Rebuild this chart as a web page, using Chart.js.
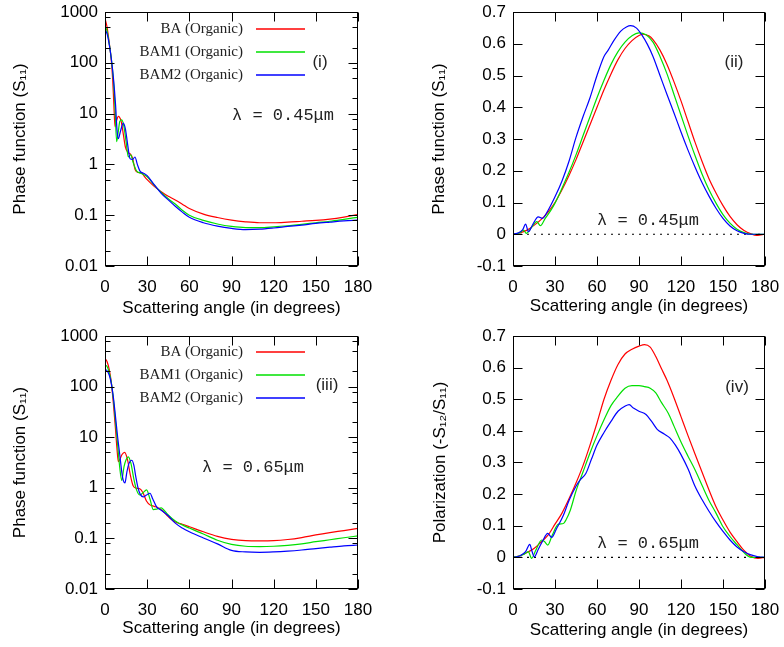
<!DOCTYPE html>
<html>
<head>
<meta charset="utf-8">
<script src="https://cdn.jsdelivr.net/npm/chart.js@4.4.1/dist/chart.umd.min.js"></script>
<style>
  html, body { margin: 0; padding: 0; background: #fff; }
  #wrap { position: relative; width: 784px; height: 647px; }
  canvas { position: absolute; }
</style>
</head>
<body>
<div id="wrap">
  <canvas id="p1" width="392" height="320" style="left:0;top:0"></canvas>
  <canvas id="p2" width="392" height="320" style="left:392px;top:0"></canvas>
  <canvas id="p3" width="392" height="327" style="left:0;top:320px"></canvas>
  <canvas id="p4" width="392" height="327" style="left:392px;top:320px"></canvas>
</div>
<script>
// ---- data (angle in degrees, value) ----
const SERIES_NAMES = ['BA (Organic)', 'BAM1 (Organic)', 'BAM2 (Organic)'];
const ANGLE_TICKS = [0, 30, 60, 90, 120, 150, 180];
const LOG_TICKS = [0.01, 0.1, 1, 10, 100, 1000];
const LIN_TICKS = [-0.1, 0, 0.1, 0.2, 0.3, 0.4, 0.5, 0.6, 0.7];
const ZERO_LINE = [[0, 0], [180, 0]];

// (i) phase function, lambda = 0.45 um
const s11_045_BA = [[0,750],[1.5,500],[3,250],[4.5,110],[5.5,45],[6.3,15],[7.1,5.5],[8.2,7.2],[9.5,8.8],[11.5,7],[13,4],[14.5,2.2],[16.5,1.7],[18,1.6],[19.5,1.35],[21.5,0.78],[23,0.7],[26,0.68],[28,0.58],[30,0.5],[35,0.37],[40,0.29],[45,0.235],[50,0.2],[55,0.165],[60,0.135],[70,0.105],[80,0.09],[90,0.08],[100,0.074],[110,0.071],[120,0.071],[130,0.073],[140,0.076],[150,0.079],[160,0.084],[170,0.092],[180,0.103]];
const s11_045_BAM1 = [[0,530],[1.5,420],[3,240],[4.5,120],[6,45],[7.2,12],[8.3,2.8],[9.5,4.5],[10.5,7],[11.9,7.5],[13.5,5.5],[15,2.8],[16.6,1.4],[18.3,1.55],[20,1.1],[22.5,0.74],[25,0.68],[27,0.64],[30,0.57],[35,0.39],[40,0.28],[45,0.21],[50,0.166],[55,0.125],[60,0.1],[70,0.079],[80,0.067],[90,0.06],[100,0.057],[110,0.057],[120,0.059],[130,0.062],[140,0.066],[150,0.071],[160,0.076],[170,0.083],[180,0.091]];
const s11_045_BAM2 = [[0,450],[1.5,370],[3,230],[4.5,120],[6,50],[7.5,15],[8.5,5],[9.5,3.2],[11,4.5],[13,6.5],[14.5,5],[16,2.6],[17.8,1.3],[19.5,1.25],[21.3,1.4],[23,1],[25,0.73],[27,0.68],[30,0.6],[35,0.4],[40,0.27],[45,0.2],[50,0.15],[55,0.115],[60,0.091],[70,0.071],[80,0.061],[90,0.055],[100,0.052],[110,0.053],[120,0.056],[130,0.06],[140,0.064],[150,0.069],[160,0.073],[170,0.077],[180,0.08]];

// (ii) lambda = 0.45 um
const p_045_BA = [[0,0],[5,0.004],[10,0.013],[15,0.028],[20,0.046],[25,0.07],[30,0.1],[35,0.14],[40,0.185],[45,0.235],[50,0.29],[55,0.345],[60,0.4],[65,0.455],[70,0.505],[75,0.55],[80,0.585],[85,0.61],[90,0.626],[93,0.63],[97,0.625],[100,0.613],[105,0.58],[110,0.535],[115,0.48],[120,0.42],[125,0.355],[130,0.29],[135,0.23],[140,0.175],[145,0.13],[150,0.09],[155,0.056],[160,0.03],[165,0.012],[170,0.001],[174,-0.004],[177,-0.002],[180,0]];
const p_045_BAM1 = [[0,0],[5,0.005],[7.5,0.013],[9.5,0.003],[13,0.02],[17,0.04],[19.5,0.027],[23,0.05],[27,0.075],[30,0.098],[35,0.145],[40,0.195],[45,0.25],[50,0.31],[55,0.37],[60,0.43],[65,0.485],[70,0.535],[75,0.575],[80,0.605],[85,0.625],[90,0.634],[95,0.628],[100,0.605],[105,0.56],[110,0.505],[115,0.44],[120,0.375],[125,0.31],[130,0.248],[135,0.19],[140,0.14],[145,0.098],[150,0.062],[155,0.035],[160,0.016],[165,0.005],[170,0],[175,0],[180,0]];
const p_045_BAM2 = [[0,0],[4,0.005],[7,0.015],[9,0.032],[11,0.008],[14,0.03],[18,0.055],[21,0.05],[25,0.075],[30,0.118],[35,0.168],[40,0.23],[45,0.305],[50,0.37],[55,0.43],[60,0.5],[65,0.56],[68,0.58],[72,0.61],[77,0.64],[81,0.653],[84,0.657],[88,0.65],[92,0.628],[96,0.598],[100,0.56],[105,0.5],[110,0.44],[115,0.382],[120,0.322],[125,0.265],[130,0.212],[135,0.163],[140,0.12],[145,0.082],[150,0.05],[155,0.026],[160,0.011],[165,0.003],[170,0],[180,0]];

// (iii) phase function, lambda = 0.65 um
const s11_065_BA = [[0,360],[1.5,310],[3,220],[4.5,120],[6,45],[7.5,14],[8.5,6],[9.5,3.3],[10.5,3.6],[12,4.5],[14,5],[16,3.6],[18,1.8],[20,1.1],[22.5,0.98],[25,0.95],[27,0.8],[29.5,0.55],[32,0.46],[35,0.43],[38,0.4],[41,0.35],[45,0.27],[50,0.21],[55,0.19],[60,0.17],[70,0.135],[80,0.11],[90,0.096],[100,0.09],[110,0.089],[120,0.09],[130,0.095],[140,0.104],[150,0.117],[160,0.13],[170,0.143],[180,0.158]];
const s11_065_BAM1 = [[0,270],[1.5,250],[3,190],[4.5,120],[6,55],[7.5,20],[9,7],[10.5,2.5],[11.9,1.4],[13.5,2.6],[15,3.6],[16.6,4.1],[18.5,3],[20.5,1.5],[22.5,0.9],[24.9,0.72],[27,0.8],[29.6,0.91],[32,0.6],[34.4,0.37],[37,0.38],[40,0.4],[42,0.36],[45,0.29],[50,0.22],[55,0.185],[60,0.16],[70,0.122],[80,0.092],[90,0.076],[100,0.07],[110,0.069],[120,0.07],[130,0.073],[140,0.078],[150,0.086],[160,0.094],[170,0.103],[180,0.112]];
const s11_065_BAM2 = [[0,218],[1.5,205],[3,170],[4.5,115],[6,60],[7.5,25],[9,10],[10.5,4.5],[12,2],[13,1.4],[14.2,1.25],[15.5,2],[17,3],[19,3.5],[20.5,2.8],[22,1.6],[23.5,1],[25,0.75],[27.3,0.66],[29.5,0.72],[32,0.78],[34,0.6],[36.7,0.42],[40,0.36],[45,0.28],[50,0.2],[55,0.16],[60,0.135],[70,0.102],[80,0.078],[90,0.058],[100,0.054],[110,0.053],[120,0.054],[130,0.056],[140,0.059],[150,0.063],[160,0.067],[170,0.071],[180,0.074]];

// (iv) polarization, lambda = 0.65 um
const p_065_BA = [[0,0],[5,0.005],[9,0.013],[15,0.028],[20,0.048],[25,0.07],[30,0.105],[35,0.14],[40,0.185],[45,0.235],[50,0.29],[55,0.355],[60,0.425],[65,0.5],[70,0.56],[75,0.61],[80,0.643],[85,0.658],[90,0.668],[94,0.673],[98,0.665],[102,0.635],[106,0.597],[110,0.56],[115,0.505],[120,0.445],[125,0.385],[130,0.327],[135,0.27],[140,0.213],[145,0.16],[150,0.118],[155,0.08],[160,0.05],[165,0.022],[170,0.003],[175,-0.003],[180,0]];
const p_065_BAM1 = [[0,0],[5,0.005],[8,0.01],[10.9,0.018],[13.3,-0.003],[16,0.02],[20.5,0.055],[22.5,0.05],[24.8,0.039],[28,0.07],[32.4,0.105],[36,0.107],[38,0.12],[41,0.15],[45,0.21],[50,0.27],[55,0.33],[60,0.385],[65,0.435],[70,0.48],[75,0.51],[80,0.535],[85,0.543],[90,0.543],[94,0.54],[98,0.535],[102,0.52],[106,0.49],[111,0.455],[115,0.415],[120,0.365],[125,0.32],[130,0.277],[135,0.228],[140,0.18],[145,0.14],[150,0.097],[155,0.066],[160,0.04],[165,0.015],[170,0],[175,0],[180,0]];
const p_065_BAM2 = [[0,0],[5,0.005],[9,0.018],[12,0.041],[13.5,0.02],[15.2,0.002],[18,0.025],[21,0.05],[24.8,0.076],[27.6,0.063],[31,0.09],[36,0.133],[40,0.18],[45,0.225],[48,0.245],[52,0.265],[56,0.31],[60,0.355],[65,0.395],[70,0.43],[75,0.462],[80,0.478],[83,0.483],[86,0.472],[90,0.462],[95,0.452],[99,0.43],[103,0.405],[108,0.39],[112,0.378],[116,0.355],[120,0.325],[125,0.28],[130,0.225],[135,0.183],[140,0.146],[145,0.112],[150,0.082],[155,0.055],[160,0.033],[165,0.018],[170,0.008],[175,0.002],[180,0]];

// ---- styling ----
const COLORS = ['#ff0000', '#00e000', '#0000ff'];
const SANS = '"Liberation Sans", Arial, sans-serif';
const FONT = { family: SANS, size: 17 };
Chart.defaults.color = '#000';
Chart.defaults.font.family = SANS;

// gnuplot-like frame: border, inward ticks (mirrored), legend and labels
const framePlugin = {
  id: 'frame',
  afterDraw(chart, args, o) {
    const { ctx, chartArea: a, scales: { x, y } } = chart;
    const L = Math.round(a.left) + 0.5, R = Math.round(a.right) - 0.5;
    const T = Math.round(a.top) + 0.5, B = Math.round(a.bottom) - 0.5;
    ctx.save();
    ctx.strokeStyle = '#000';
    ctx.lineWidth = 1;
    ctx.beginPath();
    x.ticks.forEach(t => {
      const px = Math.round(x.getPixelForValue(t.value)) + 0.5;
      ctx.moveTo(px, B); ctx.lineTo(px, B - 9);
      ctx.moveTo(px, T); ctx.lineTo(px, T + 9);
    });
    y.ticks.forEach(t => {
      const py = Math.round(y.getPixelForValue(t.value)) + 0.5;
      ctx.moveTo(L, py); ctx.lineTo(L + 9, py);
      ctx.moveTo(R, py); ctx.lineTo(R - 9, py);
    });
    if (o.log) {
      LOG_TICKS.slice(0, -1).forEach(d => [2, 5, 8].forEach(m => {
        const py = Math.round(y.getPixelForValue(d * m)) + 0.5;
        ctx.moveTo(L, py); ctx.lineTo(L + 5, py);
        ctx.moveTo(R, py); ctx.lineTo(R - 5, py);
      }));
    }
    ctx.stroke();
    ctx.strokeRect(L, T, R - L, B - T);

    if (o.legend) {
      const lg = o.legend;
      chart.data.datasets.slice(0, 3).forEach((ds, i) => {
        const yy = lg.y + i * lg.dy;
        ctx.font = '15px "Liberation Serif", "Times New Roman", serif';
        ctx.textAlign = 'right';
        ctx.textBaseline = 'middle';
        ctx.fillStyle = '#222';
        ctx.fillText(ds.label, lg.x, yy);
        ctx.strokeStyle = COLORS[i];
        ctx.lineWidth = 1.5;
        ctx.beginPath();
        ctx.moveTo(lg.x1, yy); ctx.lineTo(lg.x2, yy);
        ctx.stroke();
      });
    }
    (o.texts || []).forEach(t => {
      ctx.font = t.font;
      ctx.fillStyle = '#222';
      ctx.textAlign = t.align;
      ctx.textBaseline = 'middle';
      ctx.fillText(t.text, t.x, t.y);
    });
    ctx.restore();
  }
};

function fmtLin(v) {
  return Math.abs(v) < 1e-9 ? '0' : v.toFixed(1);
}

function makePanel(id, p) {
  const canvas = document.getElementById(id);
  const W = canvas.width, H = canvas.height;
  const datasets = p.series.map((s, i) => ({
    label: SERIES_NAMES[i],
    data: s.map(([ang, val]) => ({ x: ang, y: val })),
    borderColor: COLORS[i],
    borderWidth: 1.2,
    pointRadius: 0,
    fill: false,
    cubicInterpolationMode: 'monotone',
    order: 2 - i
  }));
  if (!p.log) {
    datasets.push({
      label: 'zero',
      data: ZERO_LINE.map(([ang, val]) => ({ x: ang, y: val })),
      borderColor: '#000',
      borderWidth: 1.2,
      borderDash: [2, 5],
      pointRadius: 0,
      order: 5
    });
  }
  const yTicks = p.log ? LOG_TICKS : LIN_TICKS;
  return new Chart(canvas, {
    type: 'line',
    data: { datasets },
    options: {
      responsive: false,
      animation: false,
      devicePixelRatio: 1,
      layout: { padding: { left: 0, top: p.area.top, right: W - p.area.right, bottom: 0 } },
      plugins: {
        legend: { display: false },
        tooltip: { enabled: false },
        frame: { log: p.log, legend: p.legend, texts: p.texts }
      },
      scales: {
        x: {
          type: 'linear', min: 0, max: 180,
          grid: { display: false, drawTicks: false },
          border: { display: false },
          afterBuildTicks: s => { s.ticks = ANGLE_TICKS.map(v => ({ value: v })); },
          afterFit: s => { s.height = H - p.area.bottom; s.paddingLeft = 0; s.paddingRight = 0; },
          ticks: { font: FONT, color: '#000', padding: 11, maxRotation: 0, autoSkip: false },
          title: { display: true, text: 'Scattering angle (in degrees)', font: FONT, color: '#000',
                   padding: { top: 0, bottom: p.xTitlePad } }
        },
        y: {
          type: p.log ? 'logarithmic' : 'linear',
          min: p.log ? 0.01 : -0.1,
          max: p.log ? 1000 : 0.7,
          grid: { display: false, drawTicks: false },
          border: { display: false },
          afterBuildTicks: s => { s.ticks = yTicks.map(v => ({ value: v })); },
          afterFit: s => { s.width = p.area.left; s.paddingTop = 0; s.paddingBottom = 0; },
          ticks: { font: FONT, color: '#000', padding: 7, autoSkip: false,
                   callback: v => p.log ? String(v) : fmtLin(v) },
          title: { display: true, text: p.yTitle, font: FONT, color: '#000',
                   padding: { top: p.yTitlePad, bottom: 0 } }
        }
      }
    },
    plugins: [framePlugin]
  });
}

const MONO = '17px "Liberation Mono", "Courier New", monospace';
const TAG = '17px ' + SANS;

makePanel('p1', {
  log: true,
  series: [s11_045_BA, s11_045_BAM1, s11_045_BAM2],
  area: { left: 105, top: 12, right: 358, bottom: 266 },
  yTitle: 'Phase function (S\u2081\u2081)', yTitlePad: 10, xTitlePad: 1,
  legend: { x: 243, y: 29, dy: 23, x1: 256, x2: 305 },
  texts: [
    { text: '(i)', x: 320, y: 62, font: TAG, align: 'center' },
    { text: '\u03bb = 0.45\u03bcm', x: 232, y: 115, font: MONO, align: 'left' }
  ]
});

makePanel('p2', {
  log: false,
  series: [p_045_BA, p_045_BAM1, p_045_BAM2],
  area: { left: 121, top: 12, right: 373, bottom: 266 },
  yTitle: 'Phase function (S\u2081\u2081)', yTitlePad: 37, xTitlePad: 3,
  texts: [
    { text: '(ii)', x: 342, y: 62, font: TAG, align: 'center' },
    { text: '\u03bb = 0.45\u03bcm', x: 205, y: 220, font: MONO, align: 'left' }
  ]
});

makePanel('p3', {
  log: true,
  series: [s11_065_BA, s11_065_BAM1, s11_065_BAM2],
  area: { left: 105, top: 16, right: 358, bottom: 269 },
  yTitle: 'Phase function (S\u2081\u2081)', yTitlePad: 10, xTitlePad: 8,
  legend: { x: 243, y: 32, dy: 23, x1: 256, x2: 305 },
  texts: [
    { text: '(iii)', x: 327, y: 65, font: TAG, align: 'center' },
    { text: '\u03bb = 0.65\u03bcm', x: 202, y: 147, font: MONO, align: 'left' }
  ]
});

makePanel('p4', {
  log: false,
  series: [p_065_BA, p_065_BAM1, p_065_BAM2],
  area: { left: 121, top: 16, right: 373, bottom: 269 },
  yTitle: 'Polarization (-S\u2081\u2082/S\u2081\u2081)', yTitlePad: 38, xTitlePad: 6,
  texts: [
    { text: '(iv)', x: 345, y: 67, font: TAG, align: 'center' },
    { text: '\u03bb = 0.65\u03bcm', x: 205, y: 223, font: MONO, align: 'left' }
  ]
});
</script>
</body>
</html>
